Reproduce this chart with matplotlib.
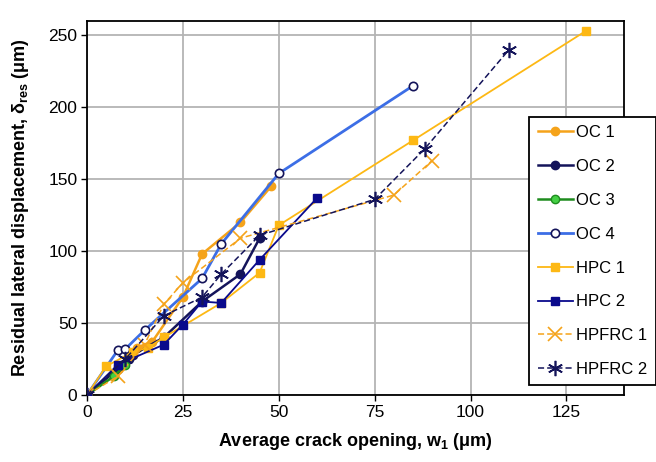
import matplotlib
matplotlib.use('Agg')
import matplotlib.pyplot as plt

plt.rcParams['font.family'] = ['Liberation Sans', 'DejaVu Sans']
plt.rcParams['mathtext.fontset'] = 'custom'
plt.rcParams['mathtext.rm'] = 'Liberation Sans:bold'
plt.rcParams['mathtext.it'] = 'Liberation Sans:bold'
plt.rcParams['mathtext.bf'] = 'Liberation Sans:bold'

##### data ################################
oc1_x    = [0, 8, 13, 17, 25, 30, 40, 48]
oc1_y    = [0, 20, 33, 37, 68, 98, 120, 145]
oc2_x    = [0, 8, 11, 12, 20, 30, 40, 45]
oc2_y    = [0, 18, 25, 28, 40, 65, 84, 109]
oc3_x    = [0, 7, 10]
oc3_y    = [0, 13, 21]
oc4_x    = [0, 8, 10, 15, 30, 35, 50, 85]
oc4_y    = [0, 31, 32, 45, 81, 105, 154, 215]
hpc1_x   = [0, 5, 12, 16, 20, 35, 45, 50, 85, 130]
hpc1_y   = [0, 20, 30, 33, 40, 64, 85, 118, 177, 253]
hpc2_x   = [0, 8, 20, 25, 30, 35, 45, 60]
hpc2_y   = [0, 21, 35, 49, 65, 64, 94, 137]
hpfrc1_x = [0, 8, 15, 20, 25, 40, 80, 90]
hpfrc1_y = [0, 13, 35, 63, 78, 109, 139, 163]
hpfrc2_x = [0, 10, 20, 30, 35, 45, 75, 88, 110]
hpfrc2_y = [0, 25, 55, 68, 84, 111, 136, 171, 240]

x_ticks  = [0, 25, 50, 75, 100, 125]
y_ticks  = [0, 50, 100, 150, 200, 250]

##### colours ##############################
c_org  = '#F5A31A'
c_gold = '#FDB814'
c_navy = '#14145A'
c_dblu = '#0A0A8C'
c_grn  = '#1E8C1E'
c_blu  = '#3C6EE6'

fig = plt.figure(figsize=(6.56, 4.62), dpi=100)
ax  = fig.add_axes([0.1326, 0.145, 0.8186, 0.8095])

ax.plot(oc1_x, oc1_y, color=c_org, lw=1.8, marker='o', ms=6, mfc=c_org, mec=c_org, label='OC 1', zorder=3)
ax.plot(oc2_x, oc2_y, color=c_navy, lw=1.8, marker='o', ms=6, mfc=c_navy, mec=c_navy, label='OC 2', zorder=3)
ax.plot(oc3_x, oc3_y, color=c_grn, lw=1.8, marker='o', ms=6, mfc='#44D044', mec=c_grn, label='OC 3', zorder=3)
ax.plot(oc4_x, oc4_y, color=c_blu, lw=2.0, marker='o', ms=6, mfc='white', mec=c_navy, mew=1.2, label='OC 4', zorder=3)
ax.plot(hpc1_x, hpc1_y, color=c_gold, lw=1.3, marker='s', ms=6, mfc=c_gold, mec=c_gold, label='HPC 1', zorder=3)
ax.plot(hpc2_x, hpc2_y, color=c_dblu, lw=1.3, marker='s', ms=6, mfc=c_dblu, mec=c_dblu, label='HPC 2', zorder=3)
ax.plot(hpfrc1_x, hpfrc1_y, color=c_org, lw=1.1, ls='--', dashes=(4, 2), marker='x', ms=10, mew=1.2, label='HPFRC 1', zorder=3)
ax.plot(hpfrc2_x, hpfrc2_y, color=c_navy, lw=1.1, ls='--', dashes=(4, 2), marker=(6, 2, 0), ms=11, mew=1.2, label='HPFRC 2', zorder=3)

ax.set_xlim(0, 140)
ax.set_ylim(0, 260)
ax.set_xticks(x_ticks)
ax.set_yticks(y_ticks)
ax.grid(True, color='#b4b4b4', lw=1.3)
ax.set_axisbelow(True)
ax.tick_params(labelsize=12.5, length=4, width=1, direction='out', pad=3)
for s in ax.spines.values():
    s.set_linewidth(1.3)

ax.set_xlabel(r'Average crack opening, w$_{\rm 1}$ (μm)', fontsize=13, fontweight='bold', labelpad=8)
ax.set_ylabel(r'Residual lateral displacement, δ$_{\rm res}$ (μm)', fontsize=13, fontweight='bold', labelpad=12)

leg = fig.legend(loc='upper left', bbox_to_anchor=(0.807, 0.747), fontsize=12,
                 frameon=True, fancybox=False, framealpha=1, edgecolor='black',
                 handlelength=2.1, handletextpad=0.2, labelspacing=1.13, borderpad=0.5,
                 borderaxespad=0)
leg.get_frame().set_linewidth(1.3)

fig.savefig('out.png', dpi=100)
